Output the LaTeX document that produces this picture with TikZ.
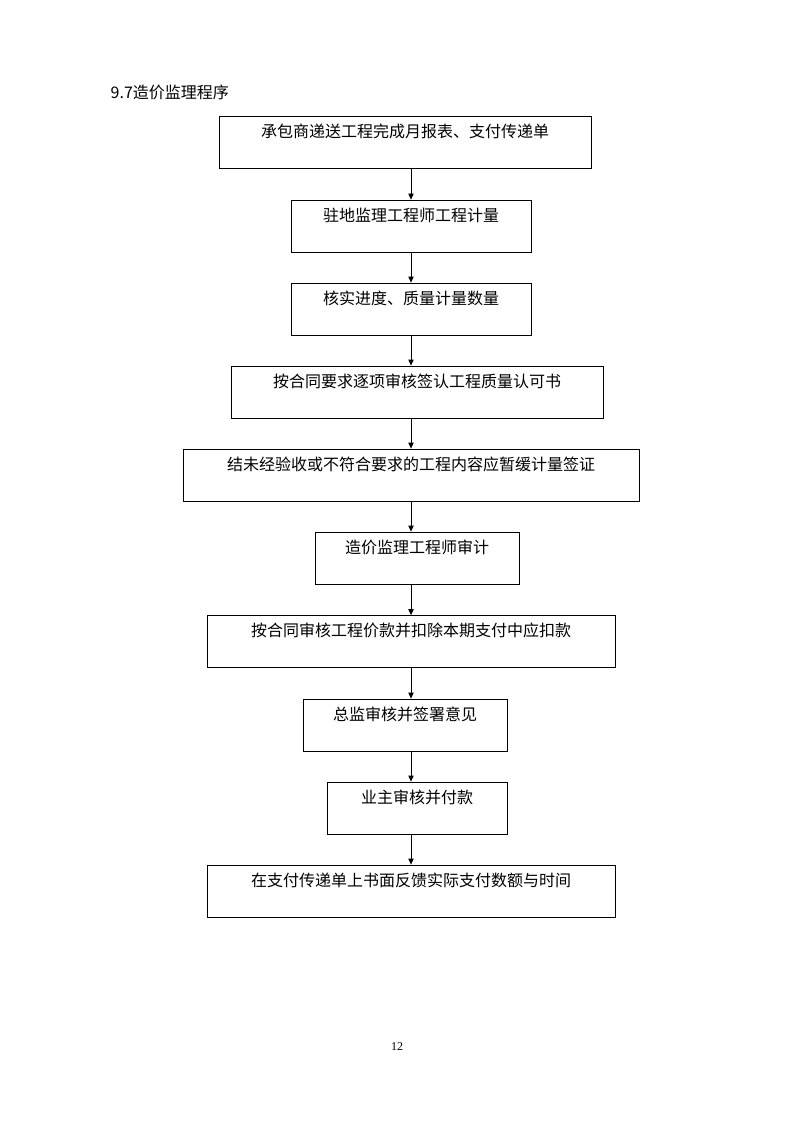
\documentclass[tikz,border=0pt]{standalone}
\usepackage{fontspec}
\setmainfont{Liberation Serif}
\newfontfamily\cjk{Noto Sans CJK SC}
\usetikzlibrary{arrows.meta}

\begin{document}
\begin{tikzpicture}[x=0.75pt, y=-0.75pt,
	stepBox/.style={rectangle, draw=black, line width=0.6pt, inner sep=0pt, minimum height=39pt,
		text height=16pt, text depth=23pt, font=\cjk\fontsize{12pt}{13pt}\selectfont},
	flowArrow/.style={draw=black, line width=0.6pt, -{Triangle[length=4.5pt, width=4pt]}}]
	\useasboundingbox (0,0) rectangle (794,1123);
	\node[anchor=west, font=\cjk\fontsize{12pt}{13pt}\selectfont](pageTitle) at (106,92){9.7造价监理程序};
	\coordinate(spine) at (411,0);
	\node[stepBox, minimum width=279pt](submitBox) at (405,142){承包商递送工程完成月报表、支付传递单};
	\node[stepBox, minimum width=180pt](measureBox) at (411,226){驻地监理工程师工程计量};
	\node[stepBox, minimum width=180pt](checkBox) at (411,309){核实进度、质量计量数量};
	\node[stepBox, minimum width=279pt](certifyBox) at (417,392){按合同要求逐项审核签认工程质量认可书};
	\node[stepBox, minimum width=342pt](deferBox) at (411,475){结未经验收或不符合要求的工程内容应暂缓计量签证};
	\node[stepBox, minimum width=153pt](auditBox) at (417,558){造价监理工程师审计};
	\node[stepBox, minimum width=306pt](deductBox) at (411,641.5){按合同审核工程价款并扣除本期支付中应扣款};
	\node[stepBox, minimum width=153pt](chiefBox) at (405,725){总监审核并签署意见};
	\node[stepBox, minimum width=135pt](ownerBox) at (417,808){业主审核并付款};
	\node[stepBox, minimum width=306pt](feedbackBox) at (411,891){在支付传递单上书面反馈实际支付数额与时间};
	\draw[flowArrow] (submitBox.south -| spine) -- (measureBox.north -| spine);
	\draw[flowArrow] (measureBox.south -| spine) -- (checkBox.north -| spine);
	\draw[flowArrow] (checkBox.south -| spine) -- (certifyBox.north -| spine);
	\draw[flowArrow] (certifyBox.south -| spine) -- (deferBox.north -| spine);
	\draw[flowArrow] (deferBox.south -| spine) -- (auditBox.north -| spine);
	\draw[flowArrow] (auditBox.south -| spine) -- (deductBox.north -| spine);
	\draw[flowArrow] (deductBox.south -| spine) -- (chiefBox.north -| spine);
	\draw[flowArrow] (chiefBox.south -| spine) -- (ownerBox.north -| spine);
	\draw[flowArrow] (ownerBox.south -| spine) -- (feedbackBox.north -| spine);
	\node[font=\fontsize{9pt}{10pt}\selectfont](pageNumber) at (397,1047){12};
\end{tikzpicture}
\end{document}
